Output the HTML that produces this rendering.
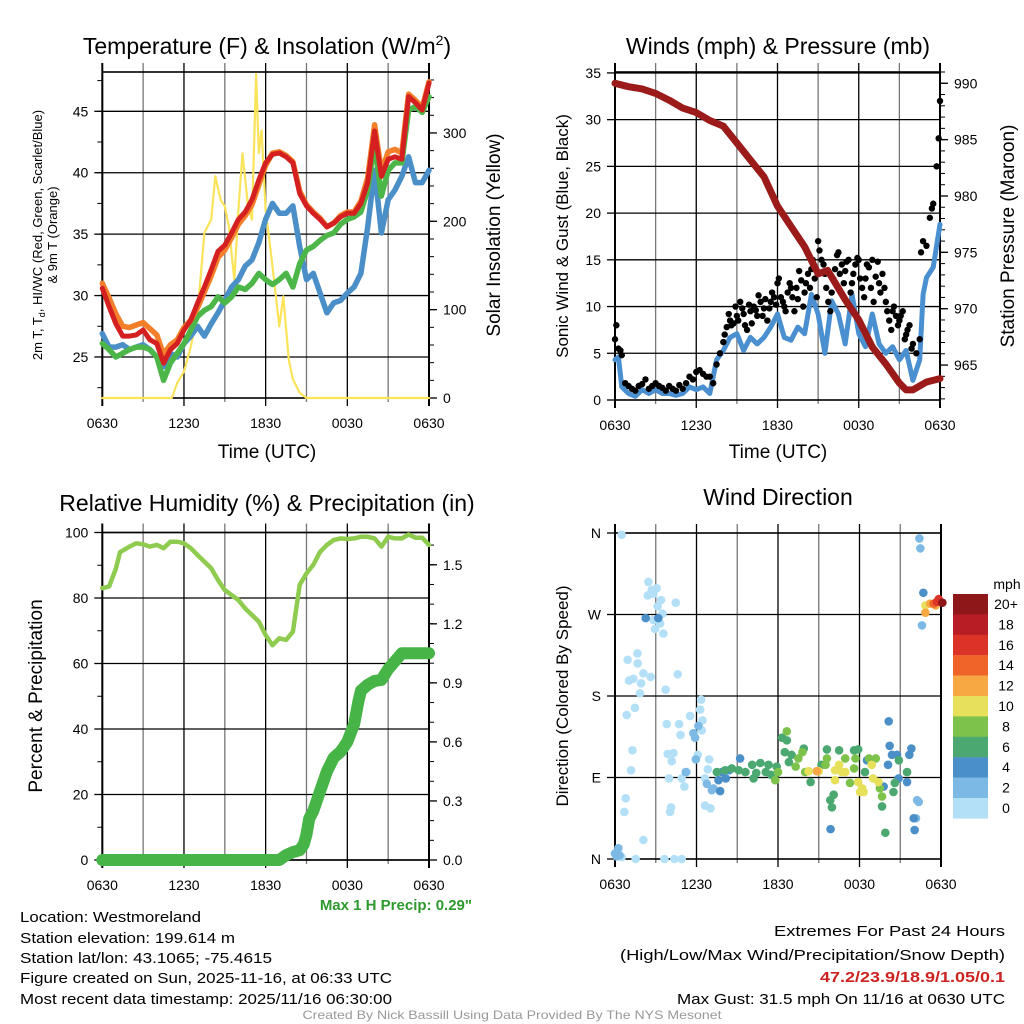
<!DOCTYPE html>
<html><head><meta charset="utf-8"><style>
html,body{margin:0;padding:0;background:#fff;}
svg{display:block;font-family:"Liberation Sans",Arial,sans-serif;}
</style></head><body>
<svg id="c" width="1024" height="1024" viewBox="0 0 1024 1024" xmlns="http://www.w3.org/2000/svg">
<rect width="1024" height="1024" fill="#fff"/>
<g id="g1"></g>
<g id="g2"></g>
<g id="g3"></g>
<g id="g4"></g>
<g id="txt">
<text x="267" y="54" font-size="23" text-anchor="middle">Temperature (F) &amp; Insolation (W/m<tspan font-size="14" dy="-9">2</tspan><tspan dy="9">)</tspan></text>
<text x="778" y="54" font-size="23" text-anchor="middle">Winds (mph) &amp; Pressure (mb)</text>
<text x="267" y="511" font-size="23" text-anchor="middle">Relative Humidity (%) &amp; Precipitation (in)</text>
<text x="778" y="505" font-size="23" text-anchor="middle">Wind Direction</text>
<text x="267" y="458" font-size="19" text-anchor="middle">Time (UTC)</text>
<text x="778" y="458" font-size="19" text-anchor="middle">Time (UTC)</text>
<text transform="translate(42,235) rotate(-90)" font-size="13" text-anchor="middle">2m T, T<tspan font-size="9" dy="3">d</tspan><tspan dy="-3">, HI/WC (Red, Green, Scarlet/Blue)</tspan></text>
<text transform="translate(57,235) rotate(-90)" font-size="13" text-anchor="middle">&amp; 9m T (Orange)</text>
<text transform="translate(500,235) rotate(-90)" font-size="19" text-anchor="middle">Solar Insolation (Yellow)</text>
<text transform="translate(568,236) rotate(-90)" font-size="17" text-anchor="middle">Sonic Wind &amp; Gust (Blue, Black)</text>
<text transform="translate(1014,236) rotate(-90)" font-size="19" text-anchor="middle">Station Pressure (Maroon)</text>
<text transform="translate(42,696) rotate(-90)" font-size="19" text-anchor="middle">Percent &amp; Precipitation</text>
<text transform="translate(568,696) rotate(-90)" font-size="17" text-anchor="middle">Direction (Colored By Speed)</text>
<text x="472" y="910" font-size="15" font-weight="bold" fill="#2e9a2e" text-anchor="end">Max 1 H Precip: 0.29"</text>
<text x="20" y="922" font-size="15" textLength="181" lengthAdjust="spacingAndGlyphs">Location: Westmoreland</text>
<text x="20" y="943" font-size="15" textLength="215" lengthAdjust="spacingAndGlyphs">Station elevation: 199.614 m</text>
<text x="20" y="963" font-size="15" textLength="252" lengthAdjust="spacingAndGlyphs">Station lat/lon: 43.1065; -75.4615</text>
<text x="20" y="983" font-size="15" textLength="372" lengthAdjust="spacingAndGlyphs">Figure created on Sun, 2025-11-16, at 06:33 UTC</text>
<text x="20" y="1004" font-size="15" textLength="372" lengthAdjust="spacingAndGlyphs">Most recent data timestamp: 2025/11/16 06:30:00</text>
<text x="774" y="936" font-size="15" textLength="231" lengthAdjust="spacingAndGlyphs">Extremes For Past 24 Hours</text>
<text x="620" y="960" font-size="15" textLength="385" lengthAdjust="spacingAndGlyphs">(High/Low/Max Wind/Precipitation/Snow Depth)</text>
<text x="820" y="982" font-size="15" font-weight="bold" fill="#cc2222" textLength="185" lengthAdjust="spacingAndGlyphs">47.2/23.9/18.9/1.05/0.1</text>
<text x="677" y="1004" font-size="15" textLength="328" lengthAdjust="spacingAndGlyphs">Max Gust: 31.5 mph On 11/16 at 0630 UTC</text>
<text x="512" y="1019" font-size="12" fill="#999" text-anchor="middle" textLength="419" lengthAdjust="spacingAndGlyphs">Created By Nick Bassill Using Data Provided By The NYS Mesonet</text>
</g>
</svg>
<script>
// ---------- data ----------
const timeLabels = ["0630","1230","1830","0030","0630"];
const tempHours = [0,0.5,1,1.5,2,2.5,3,3.5,4,4.5,5,5.5,6,6.5,7,7.5,8,8.5,9,9.5,10,10.5,11,11.5,12,12.5,13,13.5,14,14.5,15,15.5,16,16.5,17,17.5,18,18.5,19,19.5,20,20.5,21,21.5,22,22.5,23,23.5,24];
const tempRed = [30.6,29.1,27.7,26.7,26.7,26.8,27.2,26.4,26.1,24.5,25.6,26.1,27.2,28.0,29.4,30.7,32.1,33.6,34.1,35.1,36.2,36.8,37.8,39.4,40.8,41.5,41.6,41.3,40.8,38.3,37.3,36.7,36.2,35.6,35.9,36.4,36.7,36.7,37.5,39.2,43.4,39.7,41.1,41.3,41.1,46.2,45.7,45.1,47.3];
const tempOrange = [31.0,29.8,28.5,27.5,27.4,27.6,27.8,27.3,26.8,25.2,26.0,26.4,27.4,28.0,29.0,30.3,31.6,33.1,33.7,34.7,35.8,36.5,37.4,39.0,40.6,41.6,41.7,41.4,40.9,38.5,37.4,36.8,36.3,35.6,35.9,36.5,36.8,36.8,37.7,39.6,43.9,40.1,41.7,41.9,41.6,46.4,45.9,45.3,47.4];
const tempGreen = [26.1,25.6,25.0,25.3,25.6,25.8,25.8,25.6,25.0,23.1,24.5,25.3,26.1,27.2,28.3,28.8,29.1,29.9,29.4,29.9,30.7,30.5,31.0,31.8,31.3,30.9,31.3,31.8,30.7,32.6,33.7,34.0,34.5,34.9,35.1,35.8,36.2,36.4,36.8,38.6,42.4,38.1,40.2,40.8,40.8,45.1,45.4,44.9,46.2];
const tempBlue = [26.9,25.8,25.8,26.0,25.6,25.8,26.0,25.6,25.0,24.2,25.3,25.0,26.1,26.7,27.5,26.7,27.7,28.6,29.6,30.7,31.3,32.4,32.9,34.3,36.2,37.5,36.7,36.7,37.3,34.0,31.3,31.8,30.2,28.6,29.4,29.6,30.2,30.7,31.8,35.6,40.2,35.1,37.8,38.6,39.7,41.3,39.2,39.2,40.2];
const insolHours = [0,5.1,5.5,6,6.5,7,7.5,8,8.3,8.7,9,9.3,9.7,10,10.3,10.7,11,11.3,11.5,11.7,12,12.5,13,13.3,13.7,14,14.5,15,24];
const insolVals = [0,0,17,30,58,96,187,202,251,224,217,194,134,213,277,217,202,367,277,303,213,149,81,115,43,21,6,0,0];
const tempTicks = [25,30,35,40,45];
const insolTicks = [0,100,200,300];

const windHours = [0,0.25,0.5,1,1.5,2,2.5,3,3.5,4,4.5,5,5.5,6,6.5,7,7.5,8,8.5,9,9.5,10,10.5,11,11.5,12,12.5,13,13.5,14,14.5,15,15.5,16,16.5,17,17.5,18,18.5,19,19.5,20,20.5,21,21.5,22,22.5,22.75,23,23.5,24];
const windSpeed = [4.3,4.6,1.4,0.7,0.4,1.1,0.7,1.1,0.7,0.7,0.5,0.7,1.4,1.1,1.4,0.7,4.3,5.3,6.7,7.1,5.3,6.7,6.0,6.7,7.8,9.2,6.7,6.4,7.8,7.1,11.3,9.2,5.0,10.6,9.2,6.0,11.3,7.1,5.7,9.2,6.0,5.0,5.7,4.3,5.3,2.1,4.3,11.3,13.1,14.2,18.8];
const gustHours = [0,0.25,0.5,0.75,1,1.25,1.5,1.75,2,2.25,2.5,2.75,3,3.25,3.5,3.75,4,4.25,4.5,4.75,5,5.25,5.5,5.75,6,6.25,6.5,6.75,7,7.25,7.5,7.75,8,8.25,8.5,8.75,9,9.25,9.5,9.75,10,10.25,10.5,10.75,11,11.25,11.5,11.75,12,12.25,12.5,12.75,13,13.25,13.5,13.75,14,14.25,14.5,14.75,15,15.25,15.5,15.75,16,16.25,16.5,16.75,17,17.25,17.5,17.75,18,18.25,18.5,18.75,19,19.25,19.5,19.75,20,20.25,20.5,20.75,21,21.25,21.5,21.75,22,22.25,22.5,22.75,23,23.25,23.5,23.75,24];
const gustVals = [6.5,5.5,4.8,1.8,1.5,1.2,1.0,1.5,1.7,2.2,1.2,1.5,1.8,1.5,1.3,1.0,1.5,1.2,1.0,1.6,1.2,1.8,2.5,2.2,3.0,3.2,2.8,2.5,2.5,1.8,3.8,5.0,6.2,7.8,8.5,8.2,9.0,10.5,9.2,7.5,9.5,10.0,9.0,10.5,9.8,8.5,10.5,11.0,12.5,11.0,10.0,11.5,12.0,9.5,10.8,12.8,11.5,13.5,14.0,13.0,17.0,15.0,13.5,10.5,11.5,14.0,15.8,14.5,13.8,15.0,12.5,14.5,15.0,12.0,13.0,14.2,15.0,13.2,12.5,13.5,10.5,8.5,9.5,9.0,8.5,9.5,7.0,8.0,6.0,5.0,6.5,17.0,16.5,19.5,21.0,25.0,32.0];
const gust2Hours = [0.1,0.4,8.1,8.4,8.6,8.9,9.1,9.4,9.6,9.9,10.1,10.4,10.6,10.9,11.1,11.4,11.6,11.9,12.1,12.4,12.6,12.9,13.1,13.4,13.6,13.9,14.1,14.4,14.6,14.9,15.1,15.4,15.6,15.9,16.1,16.4,16.6,16.9,17.1,17.4,17.6,17.9,18.1,18.4,18.6,18.9,19.1,19.4,19.6,19.9,20.1,20.4,20.6,20.9,21.1,21.4,21.6,21.9,22.6,23.4,23.9];
const gust2Vals = [8.0,5.3,7.0,9.2,8.0,10.0,8.5,9.8,8.0,10.2,8.2,9.6,11.2,9.0,10.8,9.8,11.5,10.2,13.0,10.5,9.5,12.5,11.0,12.0,13.8,10.0,12.5,12.0,15.0,11.0,16.0,14.5,12.0,9.5,13.0,15.5,13.5,12.5,14.8,11.5,13.5,15.2,13.0,11.0,14.5,12.0,10.5,14.8,11.5,12.0,9.5,7.5,10.0,8.0,9.0,6.5,7.5,5.5,15.8,20.5,28.0];
const presHours = [0,1,2,3,4,5,5.5,6,7,8,9,10,11,12,13,14,15,15.7,16,17,18,19,20,21,21.5,22,23,24];
const presVals = [990,989.7,989.5,989.1,988.5,987.8,987.6,987.4,986.7,986.2,984.7,983.2,981.7,979.1,977.3,975.5,973.1,973.4,972.8,970.8,969.0,966.6,965.1,963.4,962.8,962.8,963.5,963.8];
const windTicks = [0,5,10,15,20,25,30,35];
const presTicks = [965,970,975,980,985,990];

const rhHours = [0,0.5,1,1.3,2,2.5,3,3.5,4,4.5,5,5.5,6,6.5,7,7.5,8,8.5,9,9.5,10,10.5,11,11.5,12,12.5,13,13.5,14,14.5,15,15.5,16,16.5,17,17.5,18,18.5,19,19.5,20,20.5,21,21.5,22,22.5,23,23.5,24];
const rhVals = [83.0,83.5,89,94,95.7,96.7,96.4,95.7,96.2,95.2,97.2,97.2,96.7,95.2,93.1,91.1,89.1,85.5,82.4,80.9,79.4,76.8,74.8,72.8,68.7,65.6,67.7,67.2,69.7,84.0,87.5,90.1,94.1,96.2,97.7,98.2,98.0,98.2,98.7,98.7,98.2,95.7,98.7,98.2,98.2,99.4,98.4,98.4,96.2];
const precipHours = [0,13,13.5,14,14.5,14.8,15,15.2,15.5,16,16.5,17,17.5,18,18.5,18.8,19,19.5,20,20.5,21,21.5,22,23,24];
const precipVals = [0,0,0.025,0.04,0.05,0.08,0.13,0.21,0.25,0.35,0.45,0.52,0.55,0.60,0.69,0.80,0.86,0.89,0.91,0.915,0.97,1.01,1.05,1.05,1.05];
const rhTicks = [0,20,40,60,80,100];
const precipTicks = [0.0,0.3,0.6,0.9,1.2,1.5];

const dirHours = [0.49,2.46,2.70,3.07,2.41,2.83,3.39,4.47,3.14,3.49,2.83,3.32,2.95,3.56,1.65,0.93,1.67,2.09,2.63,1.03,1.35,1.92,4.62,3.73,1.84,1.47,0.86,6.34,6.27,5.53,6.44,3.81,4.72,4.82,6.39,1.28,1.18,3.88,4.30,4.18,6.93,6.83,6.09,5.28,4.91,3.98,6.63,5.11,0.79,0.69,4.13,4.05,6.63,7.03,2.09,1.52,3.64,4.37,4.91,0.49,
5.77,5.90,6.14,5.95,5.21,7.25,7.13,6.76,0,0.25,0.12,0.34,22.24,22.36,22.41,22.48,22.60,22.16,
2.26,3.19,7.74,7.62,7.86,8.16,9.21,20.15,20.22,20.39,20.76,21.82,21.67,20.10,22.06,21.99,15.87,22.70,21.50,19.78,18.55,20.88,8.40,
8.1,8.6,9.1,9.6,10.1,10.4,10.7,11.1,11.3,11.5,11.9,12.3,12.65,12.5,12.8,13.9,15.6,16.5,17.6,17.9,15.85,15.97,16.1,19.9,19.66,20.5,20.6,20.9,21.5,14.4,10.2,13.0,7.5,15.2,18.4,
12.65,11.8,12.0,13.5,13.3,13.8,16.95,17.7,18.7,19.2,19.5,19.66,17.3,14.0,15.5,15.6,17.6,
14.25,15.0,16.2,16.5,16.7,17.9,18.2,18.3,18.9,19.0,19.4,22.85,16.2,16.95,18.05,
14.86,22.85,23.2,23.6,23.46,23.83,23.7,24.1];
const dirDeg = [358,306,297,299,291,293,286,283,279,271,264,260,254,249,227,220,216,205,201,197,199,194,204,187,183,167,159,176,165,158,153,149,149,137,142,120,98,116,117,108,110,99,115,96,89,89,89,80,67,52,57,52,59,56,21,0,0,0,0,2,
139,134,147,110,96,78,76,83,6,12,3,4,65,63,354,343,258,45,
266,266,75,87,96,89,111,152,125,115,115,122,115,104,32,45,33,294,85,80,109,89,98,
98,100,98,96,104,95,106,96,104,93,102,134,131,118,107,122,121,120,120,121,65,57,71,29,58,74,84,109,96,85,89,115,96,104,96,
141,87,96,111,102,118,111,111,111,111,78,69,84,96,104,111,100,
97,97,98,104,96,85,78,74,104,89,85,280,87,96,74,
97,272,282,280,282,287,284,283];
const dirSpeed = [1,1,1,1,1,1,1,1,1,1,1,1,1,1,1,1,1,1,1,1,1,1,1,1,1,1,1,1,1,1,1,1,1,1,1,1,1,1,1,1,1,1,1,1,1,1,1,1,1,1,1,1,1,1,1,1,1,1,1,1,
3,3,3,3,3,3,3,3,3,3,3,3,3,3,3,3,3,3,
5,5,5,5,5,5,5,5,5,5,5,5,5,5,5,5,5,5,5,5,5,5,5,
7,7,7,7,7,7,7,7,7,7,7,7,7,7,7,7,7,7,7,7,7,7,7,7,7,7,7,7,7,7,7,7,7,7,7,
9,9,9,9,9,9,9,9,9,9,9,9,9,9,9,9,9,
11,11,11,11,11,11,11,11,11,11,11,11,11,11,11,
13,13,13,13,15,17,17,21];
const dirTickLabels = ["N","E","S","W","N"];
const speedBinLabels = ["20+","18","16","14","12","10","8","6","4","2","0"];
const speedBinColors = ["#8e1719","#b81c24","#dc3328","#f06429","#f7a843","#e6e05a","#7cc24b","#4aa870","#4a8fc7","#7cb9e4","#b3e0f7"];

// ---------- helpers ----------
const NS="http://www.w3.org/2000/svg";
function mk(parent,tag,attrs){const e=document.createElementNS(NS,tag);for(const k in attrs)e.setAttribute(k,attrs[k]);parent.appendChild(e);return e;}
function lin(d0,d1,r0,r1){return v=>r0+(v-d0)/(d1-d0)*(r1-r0);}
function pathD(xs,ys,fx,fy){return xs.map((t,i)=>(i?'L':'M')+fx(t).toFixed(1)+','+fy(ys[i]).toFixed(1)).join('');}

function frame(g,X0,X1,Y0,Y1,fx,hLines){
  for(let h=0;h<=24;h+=3){
    const x=fx(h);
    const l=mk(g,'line',{x1:x,x2:x,y1:Y0-9,y2:Y1+(h%6===0?8:4),stroke:h%6===0?'#000':'#777','stroke-width':1.3});
    
    
  }
  hLines.forEach(y=>{
    const l=mk(g,'line',{x1:X0,x2:X1,y1:y,y2:y,stroke:'#000','stroke-width':1.3});
    
    
  });
  const r=mk(g,'rect',{x:X0,y:Y0,width:X1-X0,height:Y1-Y0,fill:'none',stroke:'#000','stroke-width':1.6});
  
  
  mk(g,'line',{x1:X0,x2:X0,y1:Y0-9,y2:Y1+8,stroke:'#000','stroke-width':2});
  mk(g,'line',{x1:X1,x2:X1,y1:Y0-9,y2:Y1+8,stroke:'#000','stroke-width':2});
  timeLabels.forEach((s,i)=>{
    const t=mk(g,'text',{x:fx(i*6),y:Y1+30,'font-size':14,'text-anchor':'middle'});
    t.textContent=s;
    
    
  });
}
function yTicks(g,ticks,fy,x,side,labels,minorStep,dom){
  ticks.forEach((v,i)=>{
    const y=fy(v);
    mk(g,'line',{x1:x,x2:x+(side<0?-8:8),y1:y,y2:y,stroke:'#000','stroke-width':1.3});
    const t=mk(g,'text',{x:x+(side<0?-14:14),y:y+5,'font-size':14,'text-anchor':side<0?'end':'start'});
    t.textContent=labels?labels[i]:String(v);
    
    
  });
  if(minorStep){for(let v=Math.ceil(dom[0]/minorStep)*minorStep;v<=dom[1];v+=minorStep){const y=fy(v);mk(g,'line',{x1:x,x2:x+(side<0?-5:5),y1:y,y2:y,stroke:'#000','stroke-width':1});}}
}
function line(g,xs,ys,fx,fy,color,w,name){
  const p=mk(g,'path',{d:pathD(xs,ys,fx,fy),fill:'none',stroke:color,'stroke-width':w,'stroke-linejoin':'round','stroke-linecap':'round'});
  
  
}

// ---------- panel 1 ----------
(function(){
  const g=document.getElementById('g1');
  const X0=102.3,X1=429,Y0=72,Y1=398;
  const fx=lin(0,24,X0,X1), fT=lin(21.66,48.2,Y1,Y0), fI=lin(0,369,Y1,Y0);
  frame(g,X0,X1,Y0,Y1,fx,tempTicks.map(fT));
  yTicks(g,tempTicks,fT,X0,-1,null,2.5,[21.66,48.2]);
  yTicks(g,insolTicks,fI,X1,1,null,20,[0,369]);
  line(g,insolHours,insolVals,fx,fI,'#fbe35a',2.2,'insolation-line');
  line(g,tempHours,tempBlue,fx,fT,'#4a8fc7',5.5,'windchill-line');
  line(g,tempHours,tempGreen,fx,fT,'#4cb748',5.5,'dewpoint-line');
  line(g,tempHours,tempOrange,fx,fT,'#f47f2a',5.5,'temp-9m-line');
  line(g,tempHours,tempRed,fx,fT,'#d42020',5,'temp-2m-line');
})();

// ---------- panel 2 ----------
(function(){
  const g=document.getElementById('g2');
  const X0=615,X1=940,Y0=72,Y1=400;
  const fx=lin(0,24,X0,X1), fW=lin(0,35.1,Y1,Y0), fP=lin(961.9,991,Y1,Y0);
  frame(g,X0,X1,Y0,Y1,fx,windTicks.filter(v=>v>0).map(fW));
  yTicks(g,windTicks,fW,X0,-1,null,null,null);
  yTicks(g,presTicks,fP,X1,1,null,1,[961.9,991]);
  line(g,windHours,windSpeed,fx,fW,'#4a8fcf',5,'sonic-wind-line');
  const drawDots=(hs,vs)=>hs.forEach((t,i)=>{
    const c=mk(g,'circle',{cx:fx(t),cy:fW(vs[i]),r:3.2,fill:'#000'});
    
    
  });
  drawDots(gustHours,gustVals);
  drawDots(gust2Hours,gust2Vals);
  line(g,presHours,presVals,fx,fP,'#9b1a1a',7,'pressure-line');
})();

// ---------- panel 3 ----------
(function(){
  const g=document.getElementById('g3');
  const X0=102.3,X1=429,Y0=532.5,Y1=860;
  const fx=lin(0,24,X0,X1), fR=lin(0,100,Y1,Y0), fP=lin(0,1.664,Y1,Y0);
  frame(g,X0,X1,Y0,Y1,fx,rhTicks.map(fR));
  yTicks(g,rhTicks,fR,X0,-1,null,10,[0,100]);
  yTicks(g,precipTicks,fP,X1,1,precipTicks.map(v=>v.toFixed(1)),0.1,[0,1.664]);
  line(g,rhHours,rhVals,fx,fR,'#8ecb4e',4.5,'humidity-line');
  line(g,precipHours,precipVals,fx,fP,'#46b446',12,'precip-line');
})();

// ---------- panel 4 ----------
(function(){
  const g=document.getElementById('g4');
  const X0=615,X1=941,Y0=533,Y1=859;
  const fx=lin(0,24,X0,X1), fD=lin(0,360,Y1,Y0);
  frame(g,X0,X1,Y0,Y1,fx,[90,180,270].map(fD));
  yTicks(g,[0,90,180,270,360],fD,X0,-1,dirTickLabels,null,null);
  dirHours.forEach((t,i)=>{
    const s=dirSpeed[i];
    const bin=Math.min(10,Math.floor(s/2));
    const c=mk(g,'circle',{cx:fx(t),cy:fD(dirDeg[i]),r:4.3,fill:speedBinColors[10-bin]});
    
    
  });
  const lg=mk(g,'g',{});
  
  
  const t0=mk(lg,'text',{x:1007,y:589,'font-size':14,'text-anchor':'middle'});
  t0.textContent='mph';
  speedBinLabels.forEach((s,i)=>{
    const y=594+i*20.4;
    const r=mk(lg,'rect',{x:953,y:y,width:35,height:20.6,fill:speedBinColors[i]});
    
    
    const t=mk(lg,'text',{x:1006,y:y+15,'font-size':14,'text-anchor':'middle'});
    t.textContent=s;
    
    
  });
})();
</script>
</body></html>
